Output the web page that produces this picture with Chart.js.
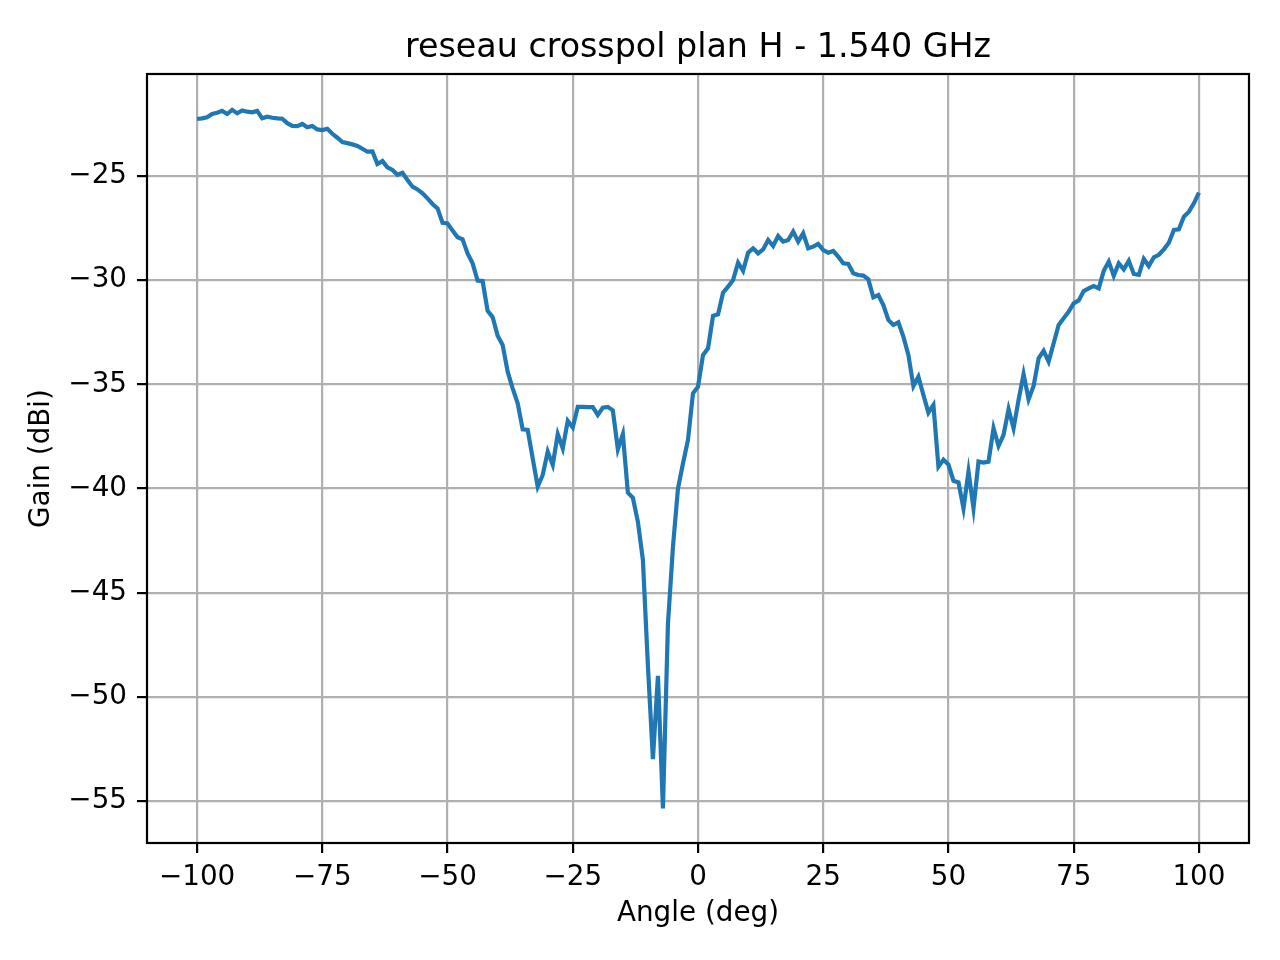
<!DOCTYPE html>
<html>
<head>
<meta charset="utf-8">
<script src="https://cdn.jsdelivr.net/npm/chart.js@4.4.1/dist/chart.umd.min.js"></script>
<style>
  html, body { margin: 0; padding: 0; background: #ffffff; }
  #wrap { width: 1280px; height: 960px; }
</style>
</head>
<body>
<div id="wrap"><canvas id="gainChart" width="1280" height="960"></canvas></div>
<script>
// measured crosspol gain, H plane, 1.540 GHz, one sample per degree from -100 to 100
var ANGLE_START = -100;
var ANGLE_STEP = 1;
var gain = [
  -22.26, -22.23, -22.18, -22.02, -21.96, -21.87, -22.02, -21.82, -21.99, -21.85,
  -21.91, -21.94, -21.87, -22.23, -22.15, -22.20, -22.23, -22.25, -22.46, -22.59,
  -22.60, -22.50, -22.66, -22.60, -22.76, -22.79, -22.73, -22.97, -23.16, -23.37,
  -23.42, -23.48, -23.55, -23.69, -23.83, -23.82, -24.42, -24.28, -24.58, -24.71,
  -24.94, -24.84, -25.19, -25.51, -25.64, -25.83, -26.07, -26.34, -26.55, -27.24,
  -27.27, -27.62, -27.94, -28.04, -28.71, -29.19, -30.02, -30.04, -31.47, -31.77,
  -32.67, -33.11, -34.39, -35.19, -35.91, -37.16, -37.19, -38.55, -39.91, -39.35,
  -38.23, -38.87, -37.39, -38.07, -36.75, -37.07, -36.08, -36.08, -36.09, -36.09,
  -36.47, -36.12, -36.08, -36.25, -38.12, -37.39, -40.20, -40.45, -41.60, -43.43,
  -48.50, -52.99, -49.00, -55.36, -46.50, -42.80, -40.00, -38.80, -37.67, -35.43,
  -35.11, -33.59, -33.27, -31.71, -31.64, -30.60, -30.31, -29.99, -29.16, -29.55,
  -28.68, -28.47, -28.71, -28.52, -28.07, -28.36, -27.88, -28.15, -28.07, -27.67,
  -28.15, -27.75, -28.47, -28.39, -28.26, -28.55, -28.68, -28.60, -28.87, -29.19,
  -29.22, -29.67, -29.75, -29.78, -29.96, -30.82, -30.71, -31.19, -31.91, -32.15,
  -32.02, -32.71, -33.59, -35.08, -34.63, -35.51, -36.36, -35.99, -38.95, -38.62,
  -38.85, -39.63, -39.71, -40.95, -39.19, -40.95, -38.71, -38.76, -38.71, -37.11,
  -37.96, -37.43, -36.19, -37.11, -35.75, -34.51, -35.72, -35.08, -33.75, -33.39,
  -33.91, -33.03, -32.15, -31.83, -31.51, -31.11, -30.97, -30.52, -30.39, -30.28,
  -30.39, -29.55, -29.11, -29.79, -29.19, -29.48, -29.07, -29.70, -29.74, -28.98,
  -29.32, -28.90, -28.78, -28.52, -28.20, -27.59, -27.56, -26.95, -26.71, -26.31,
  -25.80
];
var xTicks = [-100, -75, -50, -25, 0, 25, 50, 75, 100];
var yTicks = [-55, -50, -45, -40, -35, -30, -25];

var TITLE = 'reseau crosspol plan H - 1.540 GHz';
var FONT = '"DejaVu Sans", "Liberation Sans", sans-serif';

var points = [];
gain.forEach(function (g, i) {
  points.push({ x: ANGLE_START + i * ANGLE_STEP, y: g });
});

// matplotlib style minus sign
function fmt(v) {
  return v < 0 ? '\u2212' + Math.abs(v) : String(v);
}

// title over the plot area + the 4 spines
var framePlugin = {
  id: 'frame',
  afterDraw: function (chart) {
    var ctx = chart.ctx;
    var a = chart.chartArea;
    ctx.save();
    ctx.strokeStyle = '#000000';
    ctx.lineWidth = 2.2;
    ctx.strokeRect(a.left, a.top, a.right - a.left, a.bottom - a.top);
    ctx.fillStyle = '#000000';
    ctx.font = '33.3px ' + FONT;
    ctx.textAlign = 'center';
    ctx.textBaseline = 'alphabetic';
    ctx.fillText(TITLE, (a.left + a.right) / 2, a.top - 17);
    ctx.restore();
  }
};

var ctx = document.getElementById('gainChart');
var chart = new Chart(ctx, {
  type: 'line',
  data: {
    datasets: [{
      data: points,
      borderColor: '#1f77b4',
      borderWidth: 4.2,
      pointRadius: 0,
      tension: 0,
      fill: false
    }]
  },
  options: {
    responsive: false,
    animation: false,
    devicePixelRatio: 1,
    layout: { padding: { top: 74, right: 31, left: 0, bottom: 0 } },
    plugins: {
      legend: { display: false },
      tooltip: { enabled: false },
      title: { display: false }
    },
    scales: {
      x: {
        type: 'linear',
        min: -110,
        max: 110,
        afterBuildTicks: function (scale) {
          scale.ticks = xTicks.map(function (v) { return { value: v }; });
        },
        afterFit: function (scale) { scale.height = 117; },
        grid: { color: '#b0b0b0', lineWidth: 2.2, tickColor: '#000000', tickLength: 10 },
        border: { display: false },
        ticks: {
          color: '#000000',
          font: { family: FONT, size: 27.8 },
          padding: 8,
          maxRotation: 0,
          autoSkip: false,
          callback: function (v) { return fmt(v); }
        },
        title: {
          display: true,
          text: 'Angle (deg)',
          color: '#000000',
          font: { family: FONT, size: 27.8 },
          padding: { top: 0, bottom: 30 }
        }
      },
      y: {
        type: 'linear',
        min: -57.02,
        max: -20.1,
        afterBuildTicks: function (scale) {
          scale.ticks = yTicks.map(function (v) { return { value: v }; });
        },
        afterFit: function (scale) { scale.width = 147; },
        grid: { color: '#b0b0b0', lineWidth: 2.2, tickColor: '#000000', tickLength: 10 },
        border: { display: false },
        ticks: {
          color: '#000000',
          font: { family: FONT, size: 27.8 },
          padding: 10,
          autoSkip: false,
          callback: function (v) { return fmt(v); }
        },
        title: {
          display: true,
          text: 'Gain (dBi)',
          color: '#000000',
          font: { family: FONT, size: 27.8 },
          padding: { top: 25, bottom: 0 }
        }
      }
    }
  },
  plugins: [framePlugin]
});
</script>
</body>
</html>
